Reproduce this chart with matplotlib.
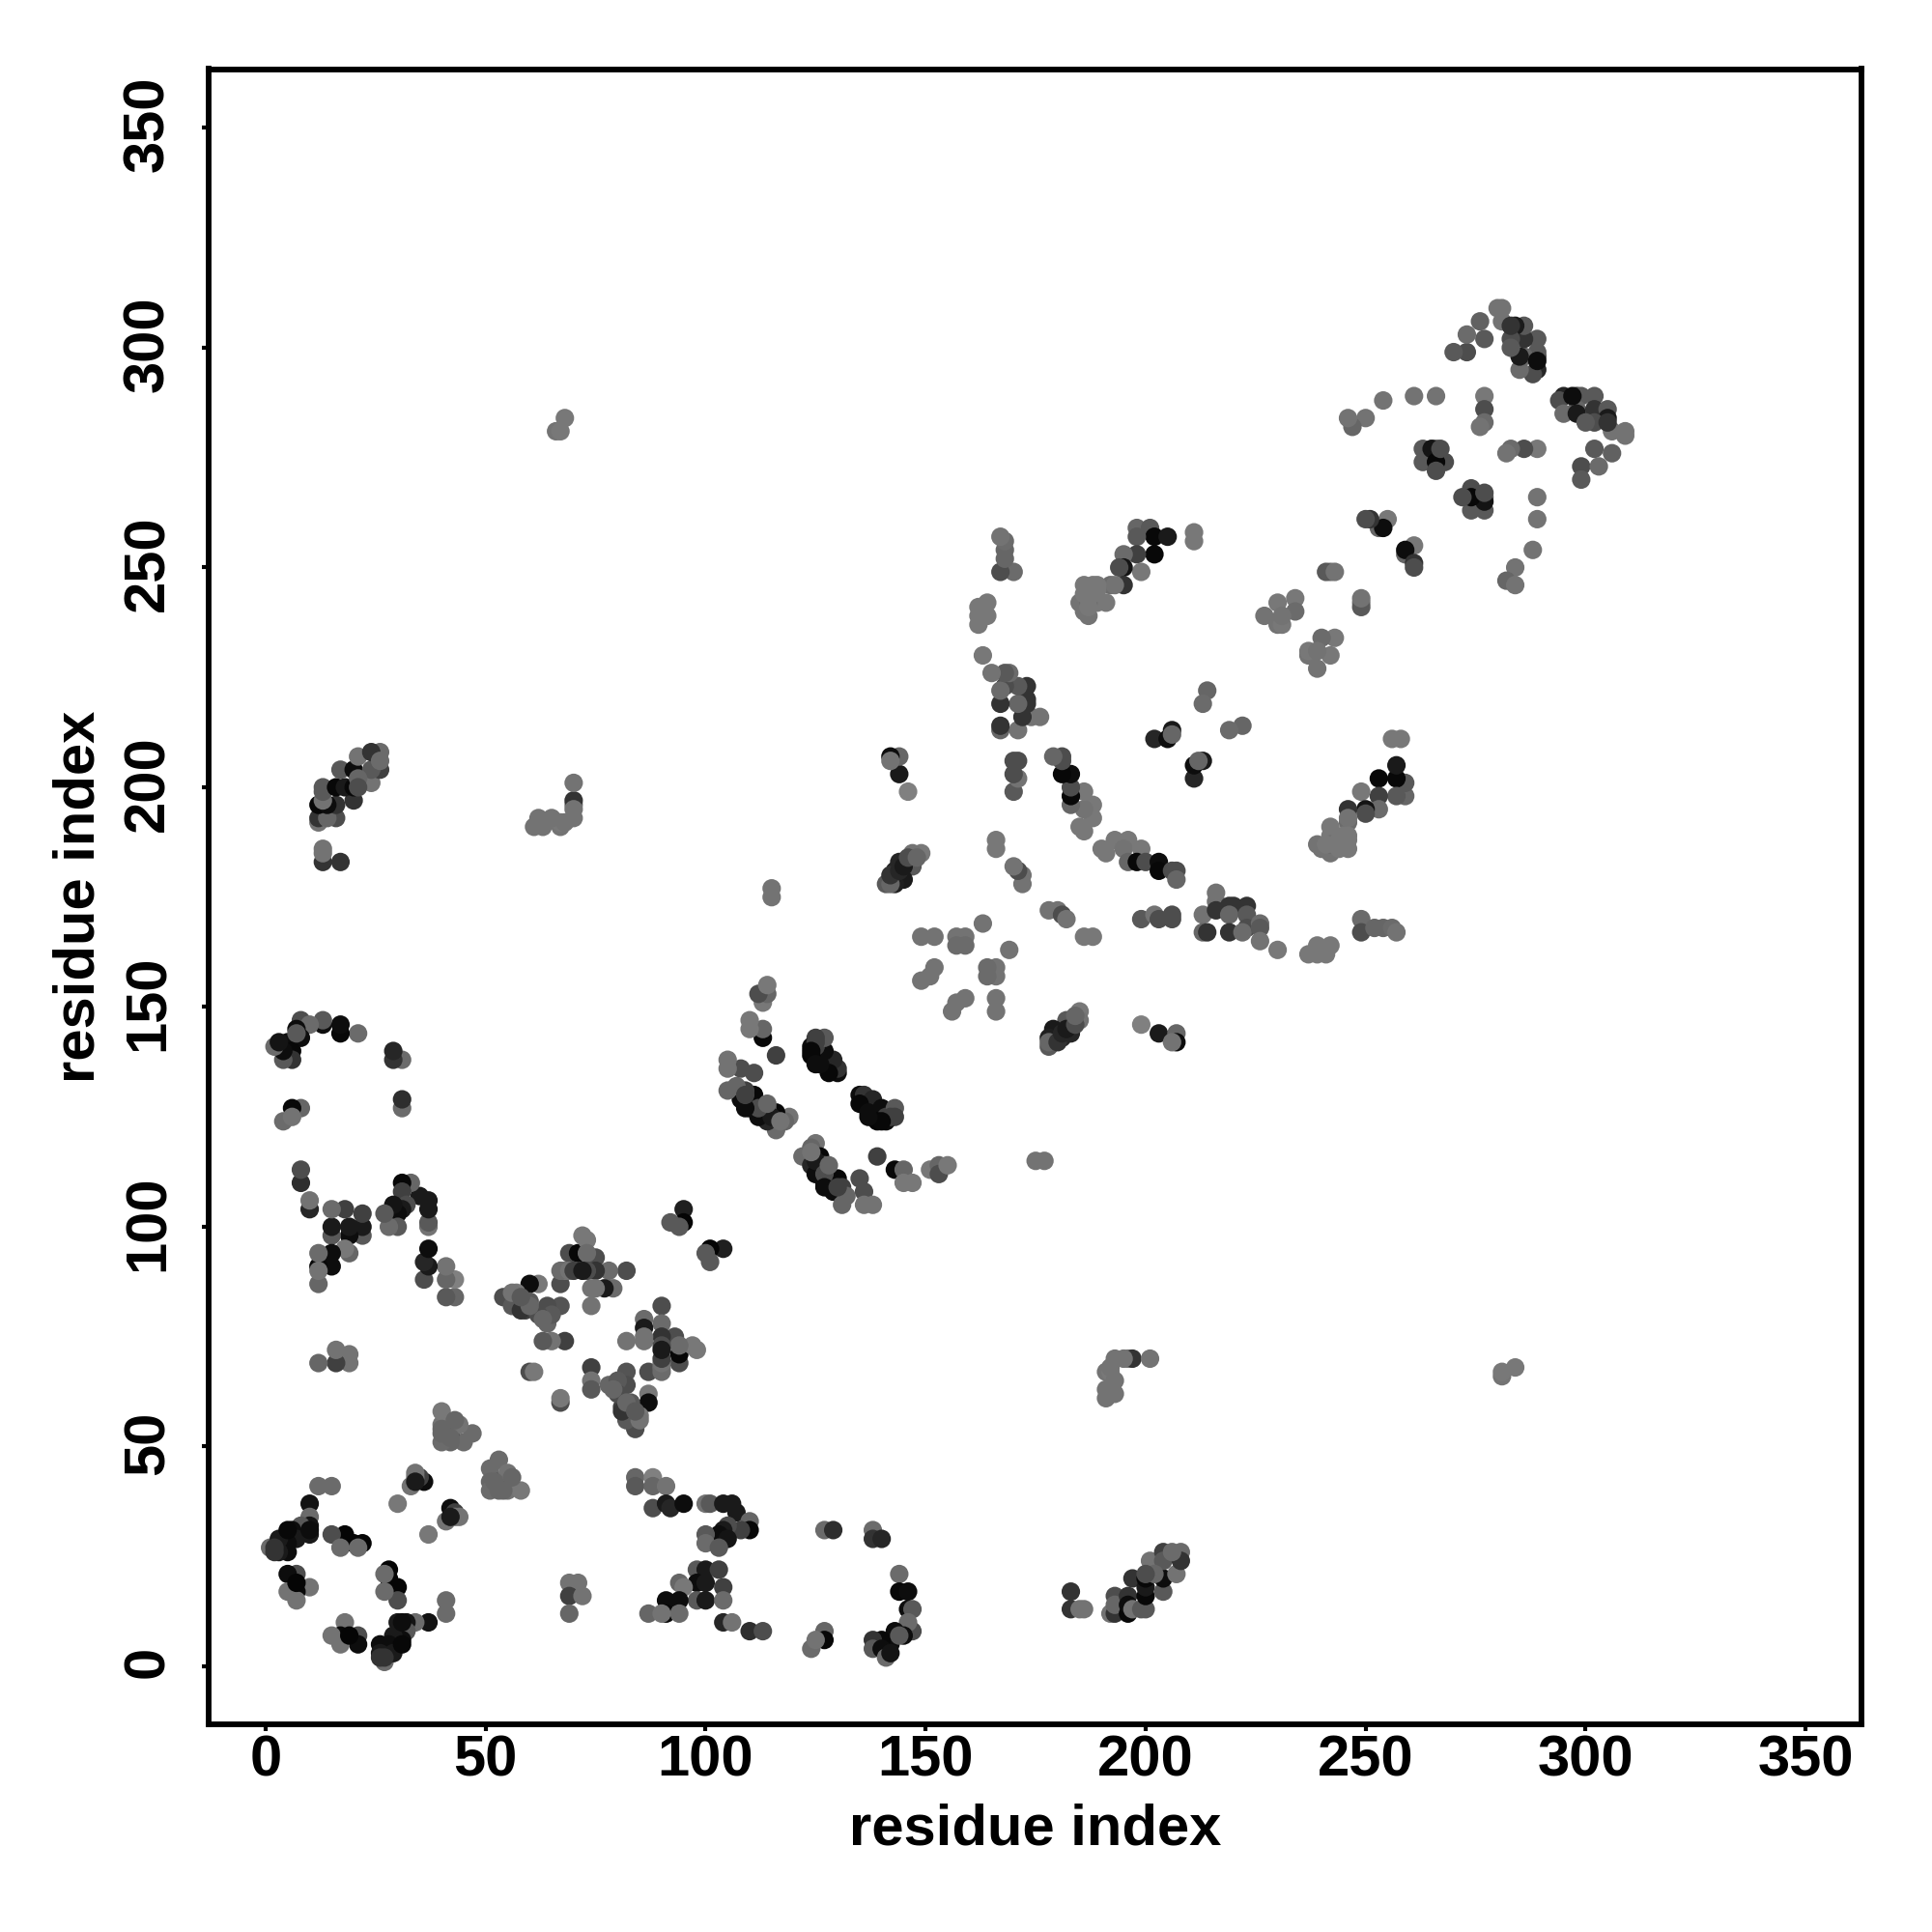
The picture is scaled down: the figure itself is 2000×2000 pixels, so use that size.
import matplotlib
matplotlib.use('Agg')
import matplotlib.pyplot as plt
from matplotlib.transforms import ScaledTranslation

plt.rcParams['font.family'] = ['Liberation Sans', 'DejaVu Sans']

res_x = [
    37, 41, 41, 34, 32, 30, 32, 31, 29, 28, 26, 27, 26, 29, 27, 26, 31, 31, 28, 28, 28, 30, 30, 27, 27, 18, 21, 21, 17, 15, 17, 19,
    53, 51, 51, 51, 53, 55, 55, 53, 55, 58, 56, 54, 52, 42, 43, 43, 44, 41, 37, 42,
    69, 71, 69, 72, 69, 74, 74, 74, 67, 67,
    84, 84, 88, 88, 91, 88, 91, 92, 95, 100, 101, 104, 106, 107, 110, 110, 108, 105, 104, 103, 105, 100, 100, 103,
    98, 100, 103, 98, 100, 104, 94, 95, 98, 100, 104, 91, 94, 91, 87, 94, 90, 104, 106, 110, 113,
    127, 129, 138, 138, 140, 144, 144, 146, 146, 147, 147, 146, 143, 145, 142, 140, 138, 138, 140, 141, 142, 144,
    127, 127, 124, 125,
    82, 87, 90, 90, 94, 94, 98, 97, 82, 87, 87, 83, 85, 84, 82, 81,
    90, 86, 90, 86, 93, 90, 86, 82, 86, 94, 90, 90, 90, 90, 78, 80, 80, 85, 81, 82, 84, 79, 104, 101, 101, 100,
    135, 136, 138, 135, 140, 137, 141, 143, 143, 139, 141, 142, 140, 137,
    122, 125, 124, 126, 127, 124, 130, 127, 131, 129, 132, 131, 135, 136, 136, 138,
    139, 143, 145, 145, 147, 151, 153, 153, 155, 125, 125, 127, 128, 127, 130, 124,
    166, 166, 159, 156, 157, 166, 166, 164, 164, 169,
    178, 185, 185, 182, 183, 179, 181, 178, 178, 199, 203, 207, 207, 206,
    178, 180, 181, 182, 186, 188,
    190, 191, 193, 196, 195, 196, 199, 198, 200, 203, 203, 206, 207, 207,
    199, 202, 203, 206, 206, 211, 211, 213, 212, 222, 219,
    216, 216, 213, 216, 219, 220, 223, 219, 223, 213, 214, 219, 223, 222, 226, 226, 226, 230,
    237, 239, 242, 241, 239, 249, 249, 252, 254, 256, 257,
    259, 259, 257, 257, 253, 257, 253, 253, 249, 250, 250, 246, 246, 246, 246, 246, 242, 242, 242, 239, 240, 242, 246, 256, 258,
    239, 242, 237, 237, 243, 240, 249, 249, 239, 249,
    295, 294, 295, 298, 299, 302, 298, 298, 302, 305, 305, 302, 306, 309, 309, 302, 306, 299, 303, 299, 300, 305, 297,
    289, 286, 283, 282, 277, 274, 277, 277, 274, 274, 272, 277,
    261, 259, 259, 261, 261, 289, 289, 288, 284, 282, 284,
    281, 281, 284, 193, 196, 197, 201, 191, 192, 191, 193,
    183, 183, 185, 186, 192, 193, 193, 193, 196, 196, 196, 197, 197, 199, 200, 200, 200, 200, 201, 204, 204, 204, 204, 202, 200, 208, 207, 208, 206,
    175, 177,
    191, 193, 192, 195, 243, 244, 241, 244, 245, 180, 181, 182, 184, 184,
]
res_y = [
    10, 15, 12, 10, 10, 10, 8, 6, 7, 5, 5, 1, 3, 3, 2, 2, 10, 5, 22, 20, 18, 18, 15, 21, 17, 10, 7, 5, 7, 7, 5, 7,
    47, 45, 42, 40, 42, 43, 44, 40, 40, 40, 43, 40, 42, 36, 35, 34, 34, 33, 30, 34,
    19, 19, 16, 16, 12, 68, 65, 63, 60, 61,
    43, 41, 43, 41, 41, 36, 37, 36, 37, 37, 37, 37, 37, 35, 33, 31, 31, 32, 31, 30, 29, 30, 28, 27,
    22, 22, 22, 19, 19, 18, 19, 18, 15, 15, 15, 15, 15, 12, 12, 12, 12, 10, 10, 8, 8,
    31, 31, 31, 29, 29, 21, 17, 17, 13, 13, 8, 10, 8, 7, 5, 6, 6, 4, 4, 2, 3, 7,
    8, 6, 4, 6,
    67, 67, 68, 67, 69, 71, 72, 73, 64, 62, 60, 60, 57, 54, 56, 59,
    82, 79, 78, 77, 75, 75, 75, 74, 74, 73, 73, 69, 70, 72, 64, 65, 62, 56, 58, 60, 58, 63, 95, 95, 92, 94,
    130, 130, 129, 128, 127, 126, 125, 127, 125, 124, 124, 125, 124, 125,
    116, 119, 118, 116, 114, 114, 111, 110, 109, 108, 107, 105, 111, 108, 105, 105,
    116, 113, 113, 110, 110, 113, 114, 112, 114, 112, 115, 112, 114, 109, 109, 117,
    149, 152, 152, 149, 151, 157, 159, 157, 159, 163,
    141, 149, 147, 147, 144, 145, 143, 143, 142, 146, 144, 144, 142, 142,
    172, 172, 171, 170, 166, 166,
    186, 185, 188, 188, 186, 183, 186, 183, 183, 183, 181, 181, 181, 179,
    170, 171, 170, 171, 170, 202, 205, 206, 206, 214, 213,
    176, 174, 171, 172, 173, 173, 173, 171, 171, 167, 167, 167, 168, 167, 169, 168, 165, 163,
    162, 164, 164, 162, 162, 170, 167, 168, 168, 168, 167,
    198, 201, 202, 205, 202, 198, 198, 195, 199, 195, 194, 195, 192, 193, 186, 188, 185, 191, 189, 187, 186, 187, 189, 211, 211,
    227, 230, 230, 231, 234, 234, 242, 241, 231, 243,
    289, 288, 285, 289, 289, 289, 286, 285, 286, 286, 284, 283, 281, 281, 280, 277, 276, 273, 273, 270, 283, 283, 289,
    277, 277, 277, 276, 263, 263, 266, 265, 268, 266, 266, 267,
    255, 253, 254, 251, 250, 266, 261, 254, 250, 247, 246,
    66, 67, 68, 70, 70, 70, 70, 67, 67, 61, 62,
    17, 13, 13, 13, 12, 12, 16, 14, 12, 16, 14, 13, 20, 13, 13, 16, 18, 20, 24, 17, 20, 26, 24, 21, 21, 26, 21, 24, 26,
    115, 115,
    63, 65, 68, 70, 187, 188, 187, 186, 189, 142, 144, 145, 146, 148,
]
res_gray = [
    .07, .42, .42, .42, .08, .1, .35, .05, .1, .05, .05, .42, .1, .1, .2, .2, .05, .03, .02, .02, .02, .02, .3, .42, .42, .45, .3, .05, .03, .45, .45, .02,
    .42, .42, .4, .42, .3, .3, .45, .4, .45, .47, .4, .4, .4, .05, .25, .45, .45, .45, .47, .1,
    .45, .45, .25, .45, .4, .25, .45, .35, .3, .47,
    .4, .35, .5, .4, .45, .3, .1, .15, .05, .45, .35, .1, .1, .1, .4, .03, .25, .3, .1, .05, .08, .35, .42, .35,
    .35, .1, .25, .05, .1, .25, .4, .47, .35, .1, .42, .05, .05, .03, .4, .42, .45, .15, .45, .18, .3,
    .42, .18, .42, .2, .15, .42, .03, .05, .05, .35, .3, .42, .05, .05, .05, .03, .2, .35, .05, .42, .08, .35,
    .4, .03, .42, .45,
    .33, .3, .45, .42, .3, .03, .47, .47, .3, .47, .05, .35, .47, .3, .35, .25,
    .3, .42, .42, .1, .3, .2, .45, .45, .45, .42, .3, .45, .25, .1, .4, .35, .3, .45, .2, .4, .35, .4, .12, .02, .35, .35,
    .05, .2, .15, .03, .05, .05, .25, .35, .25, .02, .05, .25, .03, .05,
    .42, .45, .4, .03, .35, .15, .03, .05, .25, .05, .4, .4, .3, .3, .45, .45,
    .25, .03, .4, .47, .47, .47, .4, .3, .47, .05, .1, .3, .4, .05, .25, .45,
    .45, .45, .45, .45, .45, .45, .45, .42, .42, .45,
    .35, .47, .45, .35, .15, .1, .15, .12, .4, .5, .1, .4, .05, .45,
    .45, .45, .3, .45, .47, .47,
    .47, .47, .47, .47, .45, .4, .47, .03, .3, .05, .03, .3, .3, .4,
    .35, .45, .3, .3, .3, .15, .05, .1, .4, .4, .42,
    .45, .45, .45, .2, .2, .2, .2, .4, .35, .4, .2, .2, .3, .42, .42, .35, .45, .47,
    .47, .47, .47, .47, .47, .42, .3, .4, .4, .42, .45,
    .4, .35, .03, .1, .03, .35, .25, .42, .47, .08, .3, .2, .42, .45, .47, .47, .45, .47, .47, .45, .45, .42, .47, .47, .47,
    .45, .47, .45, .47, .47, .42, .45, .35, .45, .45,
    .15, .3, .42, .2, .35, .35, .4, .1, .2, .35, .1, .3, .45, .45, .45, .35, .38, .3, .42, .35, .35, .2, .05,
    .47, .3, .42, .45, .35, .35, .38, .08, .3, .03, .3, .3,
    .47, .4, .05, .2, .3, .45, .45, .45, .45, .4, .45,
    .45, .47, .47, .45, .45, .2, .45, .45, .47, .45, .45,
    .2, .2, .45, .45, .45, .2, .3, .4, .03, .2, .05, .45, .2, .35, .35, .03, .1, .03, .45, .35, .05, .25, .35, .4, .3, .42, .45, .2, .42,
    .45, .45,
    .45, .45, .45, .45, .47, .47, .47, .47, .47, .2, .15, .1, .3, .4,
]
tick_values = [0, 50, 100, 150, 200, 250, 300, 350]

assert len(res_x) == len(res_y) == len(res_gray), (len(res_x), len(res_y), len(res_gray))
xs = res_x + res_y
ys = res_y + res_x
grays = [str(g) for g in res_gray] * 2

fig = plt.figure(figsize=(20, 20), dpi=100)
ax = fig.add_axes([215.5 / 2000, 1 - 1784.5 / 2000, (1927 - 215.5) / 2000, (1784.5 - 71.5) / 2000])
ax.scatter(xs, ys, s=190, c=grays, linewidths=0, zorder=2)

ax.set_xlim(-13.07, 362.7)
ax.set_ylim(-13.08, 363.4)
ax.set_xticks(tick_values)
ax.set_yticks(tick_values)
ax.tick_params(axis='x', length=5, width=3, labelsize=43, pad=3)
ax.tick_params(axis='y', length=5, width=3, labelsize=43, pad=19.5)
for lab in ax.get_xticklabels():
    lab.set_fontweight('bold')
nudge = ScaledTranslation(0, 3 / 72, fig.dpi_scale_trans)
for lab in ax.get_yticklabels():
    lab.set_fontweight('bold')
    lab.set_rotation(90)
    lab.set_va('center')
    lab.set_transform(lab.get_transform() + nudge)
for side in ax.spines.values():
    side.set_linewidth(4.2)

ax.set_xlabel('residue index', fontsize=43, fontweight='bold', va='center')
ax.set_ylabel('residue index', fontsize=43, fontweight='bold', va='center')
ax.xaxis.set_label_coords(0.5, -0.064)
ax.yaxis.set_label_coords(-0.078, 0.5)

fig.savefig('out.png', dpi=100, facecolor='white')
